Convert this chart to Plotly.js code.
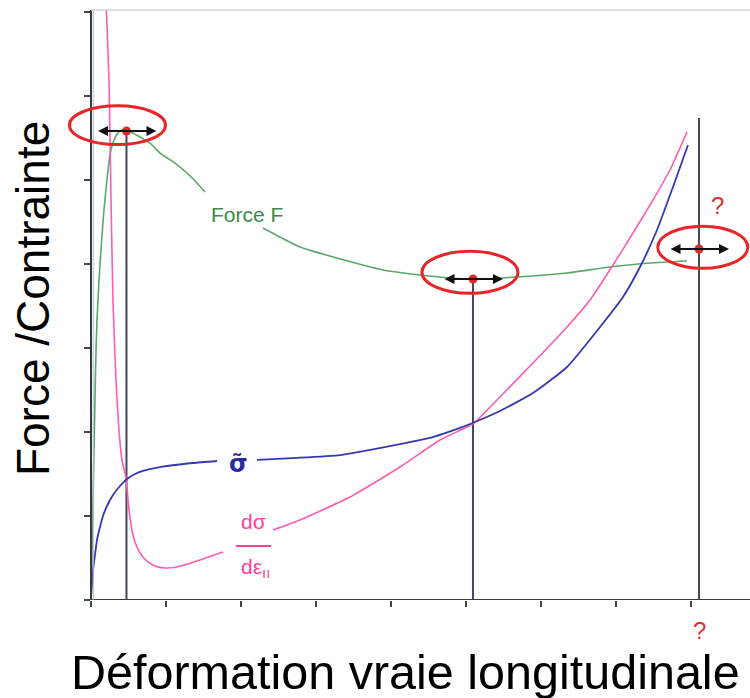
<!DOCTYPE html>
<html>
<head>
<meta charset="utf-8">
<script src="https://cdn.plot.ly/plotly-3.0.1.min.js"></script>
<style>html,body{margin:0;padding:0;background:#fff}#chart{width:750px;height:698px}</style>
</head>
<body>
<div id="chart"></div>
<script>
// Force F (green)
const forceX = [0, 0.013, 0.027, 0.04, 0.053, 0.067, 0.08, 0.107, 0.133, 0.173, 0.213, 0.253, 0.307, 0.36, 0.413, 0.48, 0.56, 0.653, 0.787, 0.92, 1.12, 1.28, 1.413, 1.52, null, 2.293, 2.787, 3.28, 3.893, 4.387, 4.787, 5.093, 5.68, 6.347, 6.92, 7.453, 7.947];
const forceY = [0, 0.476, 1.19, 1.786, 2.381, 2.976, 3.333, 3.81, 4.167, 4.643, 5.0, 5.298, 5.476, 5.56, 5.595, 5.583, 5.56, 5.512, 5.44, 5.321, 5.202, 5.083, 4.964, 4.857, null, 4.429, 4.202, 4.071, 3.929, 3.869, 3.833, 3.821, 3.845, 3.893, 3.964, 4.012, 4.036];
// true stress sigma~ (blue)
const sigmaX = [0, 0.013, 0.027, 0.053, 0.08, 0.12, 0.16, 0.213, 0.293, 0.387, 0.48, 0.587, 0.693, 0.92, 1.36, 1.68, null, 2.213, 2.693, 3.32, 4.12, 4.56, 4.92, 5.12, 5.453, 5.893, 6.347, 6.787, 7.093, 7.32, 7.547, 7.76, 7.96];
const sigmaY = [0.036, 0.179, 0.357, 0.536, 0.714, 0.869, 1.0, 1.119, 1.25, 1.357, 1.44, 1.5, 1.536, 1.583, 1.631, 1.655, null, 1.667, 1.69, 1.726, 1.857, 1.94, 2.048, 2.119, 2.25, 2.464, 2.774, 3.25, 3.607, 3.964, 4.405, 4.917, 5.417];
// d sigma / d epsilon (pink)
const slopeX = [0.2, 0.24, 0.267, 0.293, 0.333, 0.373, 0.413, 0.467, 0.507, 0.56, 0.613, 0.68, 0.747, 0.853, 0.987, 1.147, 1.453, 1.76, null, 2.427, 2.787, 3.453, 4.12, 4.653, 5.013, 5.12, 5.453, 5.893, 6.347, 6.653, 6.96, 7.227, 7.493, 7.72, 7.947];
const slopeY = [7.143, 6.19, 4.762, 3.571, 2.619, 2.024, 1.667, 1.452, 1.071, 0.774, 0.631, 0.524, 0.464, 0.405, 0.381, 0.393, 0.476, 0.571, null, 0.833, 0.952, 1.226, 1.583, 1.905, 2.06, 2.119, 2.417, 2.821, 3.25, 3.571, 3.988, 4.369, 4.762, 5.119, 5.571];
// highlighted points (red dots) and their vertical guide lines
const pointX = [0.473, 5.093, 8.107];
const pointY = [5.583, 3.821, 4.179];
const guideTop = [5.583, 3.821, 5.738];
const xTicks = [0, 1, 2, 3, 4, 5, 6, 7, 8];
const yTicks = [0, 1, 2, 3, 4, 5, 6, 7];

const XMIN = -0.4133, XMAX = 8.7867, YMAX = 7.0238;
const FONT = 'Liberation Sans, Arial, sans-serif';

const traces = [];
// vertical guides
for (let i = 0; i < pointX.length; i++) {
  traces.push({x: [pointX[i], pointX[i]], y: [0, guideTop[i]], mode: 'lines',
    line: {color: '#45455e', width: 2}, hoverinfo: 'skip'});
}
traces.push({x: forceX, y: forceY, mode: 'lines', line: {color: '#58a868', width: 1.6, shape: 'spline', smoothing: 0.5}, connectgaps: false});
traces.push({x: slopeX, y: slopeY, mode: 'lines', line: {color: '#ff5cae', width: 1.6, shape: 'spline', smoothing: 0.5}, connectgaps: false});
traces.push({x: sigmaX, y: sigmaY, mode: 'lines', line: {color: '#3838b0', width: 1.8, shape: 'spline', smoothing: 0.5}, connectgaps: false});
traces.push({x: pointX, y: pointY, mode: 'markers', marker: {color: '#e02a2a', size: 9}});

// ellipses around highlighted points (offsets / radii in axis units)
const ellOff = [[-0.12, 0.07], [-0.04, 0.08], [0.05, 0.02]];
const ellR = [[0.64, 0.23], [0.64, 0.25], [0.6, 0.25]];
const shapes = [
  {type: 'line', xref: 'x', yref: 'y', x0: 0, x1: XMAX, y0: 0, y1: 0, line: {color: '#3a3a3a', width: 2}},
  {type: 'line', xref: 'x', yref: 'paper', x0: 0, x1: XMAX, y0: 1, y1: 1, line: {color: '#d0d0d0', width: 1.5}},
  {type: 'line', xref: 'x', yref: 'y', x0: 0.03, x1: 0.03, y0: 0, y1: YMAX, line: {color: '#a8bce8', width: 1}},
  {type: 'line', xref: 'x', yref: 'y', x0: 1.933, x1: 2.4, y0: 0.643, y1: 0.643, line: {color: '#ff3d9e', width: 2}}
];
for (let i = 0; i < pointX.length; i++) {
  const cx = pointX[i] + ellOff[i][0], cy = pointY[i] + ellOff[i][1];
  shapes.push({type: 'circle', xref: 'x', yref: 'y', x0: cx - ellR[i][0], x1: cx + ellR[i][0],
    y0: cy - ellR[i][1], y1: cy + ellR[i][1], line: {color: '#e8262a', width: 3}});
}

const annotations = [];
for (let i = 0; i < pointX.length; i++) {
  annotations.push({x: pointX[i] + 0.4, y: pointY[i], ax: pointX[i] - 0.4, ay: pointY[i],
    xref: 'x', yref: 'y', axref: 'x', ayref: 'y', text: '', showarrow: true,
    arrowhead: 2, arrowside: 'end+start', arrowsize: 1, arrowwidth: 2, arrowcolor: '#111', standoff: 0, startstandoff: 0});
}
annotations.push(
  {x: 2.08, y: 4.595, xref: 'x', yref: 'y', text: 'Force F', showarrow: false, font: {family: FONT, size: 21, color: '#3a8a4a'}},
  {x: 1.96, y: 1.62, xref: 'x', yref: 'y', text: '<b>σ̃</b>', showarrow: false, font: {family: 'DejaVu Sans, sans-serif', size: 24, color: '#2a2a9c'}},
  {x: 2.16, y: 0.93, xref: 'x', yref: 'y', text: 'dσ', showarrow: false, font: {family: FONT, size: 21, color: '#ff3d9e'}},
  {x: 2.19, y: 0.38, xref: 'x', yref: 'y', text: 'dε<sub>ıı</sub>', showarrow: false, font: {family: FONT, size: 21, color: '#ff3d9e'}},
  {x: 8.347, y: 4.7, xref: 'x', yref: 'y', text: '?', showarrow: false, font: {family: FONT, size: 24, color: '#e03030'}},
  {x: 8.107, y: -0.051, xref: 'x', yref: 'paper', yanchor: 'middle', text: '?', showarrow: false, font: {family: FONT, size: 24, color: '#e03030'}},
  {x: 0.5, y: -0.122, xref: 'paper', yref: 'paper', xanchor: 'center', yanchor: 'middle', text: 'Déformation vraie longitudinale', showarrow: false,
   font: {family: FONT, size: 48.5, color: '#000'}},
  {x: -0.0391, y: 0.51, xref: 'paper', yref: 'paper', xanchor: 'center', yanchor: 'middle', text: 'Force /Contrainte', textangle: -90, showarrow: false,
   font: {family: FONT, size: 46, color: '#000'}}
);

const layout = {
  width: 750, height: 698,
  margin: {l: 60, r: 0, t: 10, b: 98, pad: 0},
  paper_bgcolor: '#fff', plot_bgcolor: '#fff',
  showlegend: false, hovermode: false,
  xaxis: {range: [XMIN, XMAX], tickvals: xTicks, ticks: 'outside', ticklen: 6, tickwidth: 1.5, tickcolor: '#444',
    showticklabels: false, showgrid: false, zeroline: false, showline: false},
  yaxis: {range: [0, YMAX], tickvals: yTicks, ticks: 'outside', ticklen: 6, tickwidth: 1.5, tickcolor: '#444',
    showticklabels: false, showgrid: false, zeroline: false, showline: true, linecolor: '#3a3a3a', linewidth: 2,
    anchor: 'free', position: 31 / 690},
  shapes: shapes,
  annotations: annotations
};

Plotly.newPlot('chart', traces, layout, {staticPlot: true, displayModeBar: false});
</script>
</body>
</html>
